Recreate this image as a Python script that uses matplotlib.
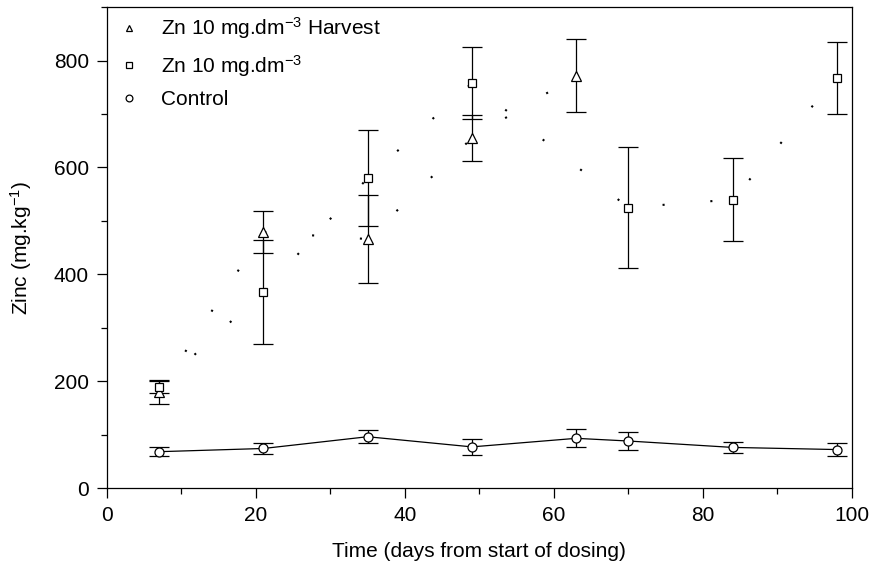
import matplotlib
matplotlib.use('Agg')
import matplotlib.pyplot as plt
from matplotlib.ticker import MultipleLocator

plt.rcParams['font.family'] = ['Liberation Sans', 'DejaVu Sans']
plt.rcParams['mathtext.fontset'] = 'custom'
plt.rcParams['mathtext.rm'] = 'Liberation Sans'
plt.rcParams['mathtext.it'] = 'Liberation Sans:italic'

# harvest series (triangles)
harv_days = [7, 21, 35, 49, 63]
harv_zn = [180, 479, 466, 655, 772]
harv_err = [23, 40, 82, 43, 69]

# Zn 10 series (squares)
zn_days = [7, 21, 35, 49, 70, 84, 98]
zn_vals = [189, 367, 580, 758, 525, 540, 768]
zn_err = [12, 97, 90, 67, 114, 78, 67]

# control (circles)
ctrl_days = [7, 21, 35, 49, 63, 70, 84, 98]
ctrl_vals = [68, 74, 96, 77, 93, 88, 76, 72]
ctrl_err = [9, 11, 12, 15, 17, 16, 11, 13]

FS = 15

fig = plt.figure(figsize=(8.71, 5.67), dpi=100)
ax = fig.add_axes([0.1228, 0.1393, 0.855, 0.848])

dotted = (0, (1, 22))
ebkw = dict(ecolor='black', elinewidth=0.9, capsize=7, capthick=0.9)

ax.plot(harv_days, harv_zn, color='black', lw=1.5, linestyle=dotted)
ax.plot(zn_days, zn_vals, color='black', lw=1.5, linestyle=dotted)
ax.errorbar(harv_days, harv_zn, yerr=harv_err, fmt='none', **ebkw)
ax.errorbar(zn_days, zn_vals, yerr=zn_err, fmt='none', **ebkw)
ax.errorbar(ctrl_days, ctrl_vals, yerr=ctrl_err, fmt='none', **ebkw)
ax.plot(ctrl_days, ctrl_vals, color='black', lw=0.9)

ax.plot(harv_days, harv_zn, ls='none', marker='^', ms=6.5, mfc='white',
        mec='black', mew=0.9, label='Zn 10 mg.dm$^{-3}$ Harvest')
ax.plot(zn_days, zn_vals, ls='none', marker='s', ms=6, mfc='white',
        mec='black', mew=0.9, label='Zn 10 mg.dm$^{-3}$')
ax.plot(ctrl_days, ctrl_vals, ls='none', marker='o', ms=6.5, mfc='white',
        mec='black', mew=0.9, label='Control')

ax.set_xlim(0, 100)
ax.set_ylim(0, 900)
ax.xaxis.set_major_locator(MultipleLocator(20))
ax.xaxis.set_minor_locator(MultipleLocator(10))
ax.yaxis.set_major_locator(MultipleLocator(200))
ax.yaxis.set_minor_locator(MultipleLocator(100))
ax.tick_params(which='major', direction='out', length=7, width=0.9, labelsize=FS)
ax.tick_params(axis='y', which='major', pad=6)
ax.tick_params(axis='x', which='major', pad=6)
ax.tick_params(which='minor', direction='out', length=4.5, width=0.9)
for s in ax.spines.values():
    s.set_linewidth(0.9)

ax.set_xlabel('Time (days from start of dosing)', fontsize=FS, labelpad=12)
ax.set_ylabel('Zinc (mg.kg$^{-1}$)', fontsize=FS, labelpad=14)

leg = ax.legend(loc='upper left', frameon=False, fontsize=FS, markerscale=0.75,
                handlelength=1.0, handletextpad=1.0, labelspacing=0.55,
                borderaxespad=0.0, bbox_to_anchor=(0.005, 1.0))

fig.savefig('out.png', dpi=100)
